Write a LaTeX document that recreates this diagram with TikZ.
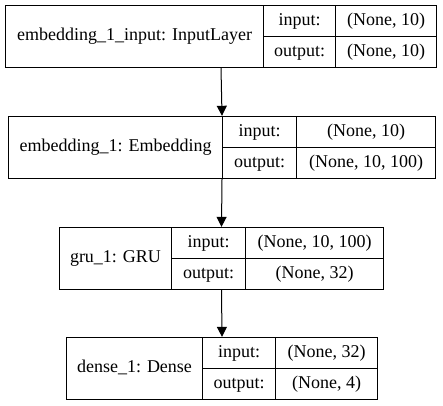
\documentclass[tikz,border=0pt]{standalone}
\usepackage{fontspec}
\setmainfont{Liberation Serif}
\usetikzlibrary{arrows.meta,positioning,fit,calc}

\begin{document}
\begin{tikzpicture}[
    x=1pt,y=-1pt,
    cell/.style={draw=black,line width=1pt,anchor=north west,inner sep=0,
      minimum height=31pt,text height=12.5pt,text depth=4pt,
      font=\fontsize{18}{20}\selectfont},
    namecell/.style={cell,minimum height=62pt},
    flow/.style={-{Triangle[length=10pt,width=10pt]},line width=1pt},
  ]
    \useasboundingbox (0,0) rectangle (443,405);
    % one record per layer: name | input/output | shapes
    \foreach \nm/\xa/\xb/\xc/\xd/\yt/\lab/\inv/\outv in {
        l1/5/263/335/436/5/{embedding\_1\_input: InputLayer}/{(None, 10)}/{(None, 10)},
        l2/8/222/296/435/116/{embedding\_1: Embedding}/{(None, 10)}/{(None, 10, 100)},
        l3/59/171/245/383/227/{gru\_1: GRU}/{(None, 10, 100)}/{(None, 32)},
        l4/66/202/275/377/337/{dense\_1: Dense}/{(None, 32)}/{(None, 4)}} {
      \node[namecell,minimum width={(\xb-\xa)*1pt}] (\nm name) at (\xa,\yt) {\lab};
      \node[cell,minimum width={(\xc-\xb)*1pt}] (\nm inl) at (\xb,\yt) {input:};
      \node[cell,minimum width={(\xd-\xc)*1pt}] (\nm inv) at (\xc,\yt) {\inv};
      \node[cell,minimum width={(\xc-\xb)*1pt}] (\nm outl) at (\xb,\yt+31) {output:};
      \node[cell,minimum width={(\xd-\xc)*1pt}] (\nm outv) at (\xc,\yt+31) {\outv};
      \node[fit=(\nm name)(\nm outv),inner sep=0] (\nm) {};
    }
    \draw[flow] (l1.south) -- (l2.north);
    \draw[flow] (l2.south) -- (l3.north);
    \draw[flow] (l3.south) -- (l4.north);
  \end{tikzpicture}
\end{document}
